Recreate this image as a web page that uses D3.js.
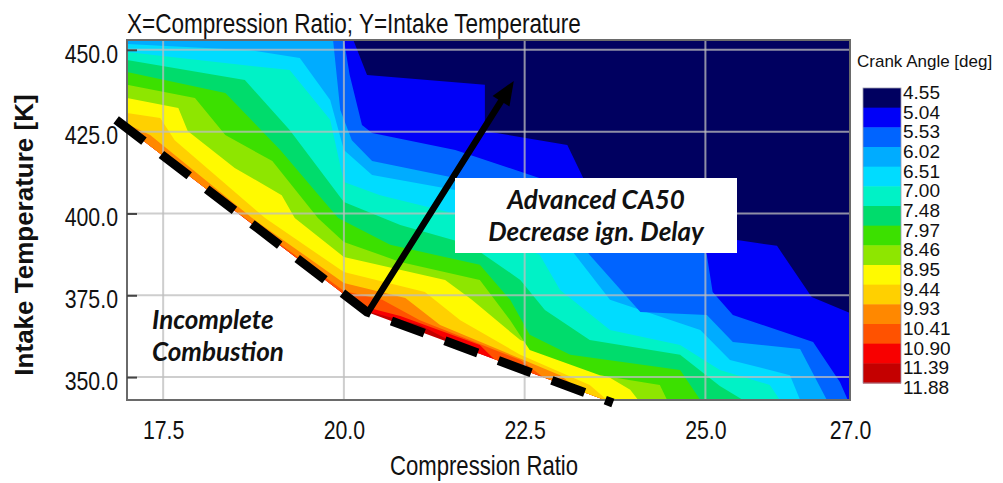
<!DOCTYPE html>
<html>
<head>
<meta charset="utf-8">
<script src="https://cdn.jsdelivr.net/npm/d3@7"></script>
<style>
  html, body { margin: 0; padding: 0; background: #fff; }
  svg { display: block; }
</style>
</head>
<body>
<svg id="chart" width="1003" height="483"></svg>
<script>
// CA50 crank-angle contour levels (deg) and the colour of each band between them
const levels = [4.55, 5.04, 5.53, 6.02, 6.51, 7.00, 7.48, 7.97, 8.46, 8.95, 9.44, 9.93, 10.41, 10.90, 11.39, 11.88];
const bandColors = ["#000060", "#0000f8", "#0064ff", "#00acff", "#00dcff", "#00f2c6", "#00dc6c",
                    "#3ce000", "#8ee600", "#fffa00", "#ffd000", "#ff8800", "#ff5200", "#f80000", "#c40000"];

const xTicks = [17.5, 20.0, 22.5, 25.0, 27.0];
const yTicks = [350, 375, 400, 425, 450];

// Isolines, [compression ratio, intake temperature K]; lower CA50 lies above/right of each line
const iso504 = [[20.10,456.1],[20.13,453.0],[20.32,442.3],[21.95,439.3],[21.95,425.2],[23.09,420.9],[23.31,410.8],[24.10,402.0],[25.44,391.9],[25.99,390.1],[26.47,374.5],[27.0,369.6],[27.3,367.0]];
const iso553 = [[19.96,456.0],[20.0,453.0],[20.08,442.3],[20.25,427.0],[20.39,424.6],[21.54,419.4],[22.99,408.7],[24.79,396.5],[25.02,387.3],[25.10,376.0],[25.38,369.0],[26.49,360.7],[26.86,348.5],[26.97,343.0],[27.03,337.0]];
const iso602 = [[19.74,456.0],[19.85,453.0],[19.95,431.6],[20.11,422.4],[20.39,416.0],[21.54,410.8],[22.99,399.5],[23.40,387.3],[24.10,369.9],[25.02,369.0],[25.38,360.7],[26.31,358.6],[26.68,343.0],[26.79,337.0]];
const iso651 = [[16.86,451.8],[17.0,451.8],[18.70,449.9],[19.39,447.5],[19.81,434.7],[20.0,419.4],[20.39,411.75],[21.54,407.2],[22.99,393.4],[23.20,387.3],[23.68,373.6],[24.93,364.4],[25.34,355.2],[26.17,350.6],[26.31,343.0],[26.38,337.0]];
const iso700 = [[16.86,449.3],[17.0,449.3],[19.25,443.8],[19.81,428.6],[20.0,409.6],[20.50,405.6],[21.61,399.5],[22.71,387.3],[22.99,376.6],[23.68,364.4],[24.65,359.8],[25.20,352.2],[25.89,347.6],[26.03,343.0],[26.10,337.0]];
const iso748 = [[16.86,446.9],[17.0,446.9],[18.63,440.8],[19.25,425.5],[20.0,403.5],[20.78,396.5],[21.74,390.4],[22.44,379.7],[22.78,370.5],[23.40,361.3],[24.65,356.8],[25.20,347.3],[25.52,343.0],[25.59,337.0]];
const iso797 = [[16.86,443.2],[17.0,443.2],[18.36,436.8],[19.12,419.4],[19.92,398.6],[20.64,390.4],[21.88,384.3],[22.30,373.6],[22.57,362.9],[23.13,356.8],[24.65,352.2],[24.93,343.0],[24.99,337.0]];
const iso846 = [[16.86,439.3],[17.0,439.3],[17.94,435.3],[18.36,424.0],[19.01,416.0],[19.64,398.6],[20.0,391.3],[20.78,385.2],[21.88,379.7],[22.30,367.4],[22.57,358.3],[23.54,350.6],[24.37,347.6],[24.47,343.0],[24.51,337.0]];
const iso895 = [[16.86,435.6],[17.0,435.3],[17.71,432.2],[17.84,425.2],[18.49,413.9],[19.14,405.6],[19.32,398.6],[20.0,386.7],[21.40,379.7],[21.77,373.6],[22.44,361.3],[23.54,351.6],[23.96,346.1],[24.07,343.0],[24.10,337.0]];
const iso944 = [[16.86,431.0],[17.0,430.7],[17.46,429.2],[17.66,422.4],[18.91,398.6],[20.0,382.1],[21.12,376.0],[21.61,367.4],[22.44,356.8],[23.40,347.6],[23.64,343.0],[23.68,337.0]];
const iso993 = [[16.86,427.6],[17.0,427.3],[17.32,424.0],[18.73,398.6],[20.0,378.75],[20.85,374.2],[21.33,365.9],[22.99,350.6],[23.45,343.0],[23.49,337.0]];
const iso1041 = [[16.86,426.1],[17.0,425.5],[18.63,398.6],[20.0,376.3],[20.53,373.6],[21.05,367.4],[22.44,355.2],[22.99,346.1],[23.13,337.0]];
const iso1090 = [[16.76,424.0],[18.42,399.5],[20.0,373.9],[20.19,372.0],[20.78,368.7],[21.88,359.8],[22.16,353.7],[22.30,337.0]];
const iso1139 = [[16.76,419.4],[18.42,397.4],[19.39,384.3],[20.0,372.0],[20.36,369.9],[21.05,365.9],[21.61,359.5],[21.74,337.0]];
const isolines = [iso504, iso553, iso602, iso651, iso700, iso748, iso797, iso846, iso895, iso944, iso993, iso1041, iso1090, iso1139];

// Incomplete-combustion boundary and the trend arrow
const misfireLine = [[16.85, 428.6], [20.32, 369.9], [23.72, 342.1]];
const arrowFrom = [20.33, 369.7];
const arrowTo = [22.35, 440.5];

const svg = d3.select("#chart");
const plot = { left: 127, right: 850, top: 40, bottom: 400 };
const x = d3.scaleLinear().domain([17, 27]).range([plot.left, plot.right]);
const y = d3.scaleLinear().domain([343, 453]).range([plot.bottom, plot.top]);
const NARROW = 0.82;           // Arial-Narrow-like horizontal squeeze
const sansFont = "'Liberation Sans', Arial, Helvetica, sans-serif";
const line = d3.line();

const defs = svg.append("defs");
defs.append("clipPath").attr("id", "plotClip").append("rect")
  .attr("x", plot.left).attr("y", plot.top)
  .attr("width", plot.right - plot.left).attr("height", plot.bottom - plot.top);

// valid region: everything above the misfire boundary
const far = 60;
const validPts = misfireLine.map(d => [x(d[0]), y(d[1])]);
const firstPt = validPts[0], lastPt = validPts[validPts.length - 1];
validPts.push([plot.right + far, lastPt[1] + far], [plot.right + far, plot.top - far],
              [plot.left - far, plot.top - far], [plot.left - far, firstPt[1]]);
defs.append("clipPath").attr("id", "validClip").append("path").attr("d", line(validPts) + "Z");

// filled contour bands, painted from the highest level down
const fillG = svg.append("g").attr("clip-path", "url(#plotClip)")
  .append("g").attr("clip-path", "url(#validClip)");
fillG.append("rect")
  .attr("x", plot.left).attr("y", plot.top)
  .attr("width", plot.right - plot.left).attr("height", plot.bottom - plot.top)
  .attr("fill", bandColors[bandColors.length - 1]);
const outer = [[plot.right + far, plot.bottom + far], [plot.right + far, plot.top - far], [plot.left - far, plot.top - far]];
for (let k = isolines.length - 1; k >= 0; k--) {
  const pts = isolines[k].map(d => [x(d[0]), y(d[1])]).concat(outer);
  fillG.append("path").attr("d", line(pts) + "Z").attr("fill", bandColors[k]);
}

// grid
const gridG = svg.append("g").attr("stroke", "#bdbdbd").attr("stroke-opacity", 0.75).attr("stroke-width", 2);
gridG.selectAll("line.gx").data(xTicks.filter(v => x(v) < plot.right - 2)).join("line")
  .attr("x1", d => x(d)).attr("x2", d => x(d)).attr("y1", plot.top).attr("y2", plot.bottom);
gridG.selectAll("line.gy").data(yTicks).join("line")
  .attr("x1", plot.left).attr("x2", plot.right).attr("y1", d => y(d)).attr("y2", d => y(d));

// frame
svg.append("rect").attr("x", plot.left).attr("y", plot.top)
  .attr("width", plot.right - plot.left).attr("height", plot.bottom - plot.top)
  .attr("fill", "none").attr("stroke", "#6a6a6a").attr("stroke-width", 2);

// axes
const yAxis = d3.axisLeft(y).tickValues(yTicks).tickFormat(d3.format(".1f"))
  .tickSizeInner(-10).tickSizeOuter(0).tickPadding(11);
const yG = svg.append("g").attr("transform", `translate(${plot.left},0)`).call(yAxis);
yG.select(".domain").remove();
yG.selectAll(".tick line").attr("stroke", "#444").attr("stroke-width", 2);
yG.selectAll(".tick text").attr("transform", `scale(${NARROW},1)`).attr("dy", "0.47em")
  .style("font-family", sansFont).style("font-size", "26px").attr("fill", "#111");

const xAxis = d3.axisBottom(x).tickValues(xTicks).tickFormat(d3.format(".1f"))
  .tickSizeInner(0).tickSizeOuter(0).tickPadding(21);
const xG = svg.append("g").attr("transform", `translate(0,${plot.bottom})`).call(xAxis);
xG.select(".domain").remove();
xG.selectAll(".tick text").attr("transform", `scale(${NARROW},1)`)
  .style("font-family", sansFont).style("font-size", "26px").attr("fill", "#111");

function narrowText(tx, ty, txt, size, anchor) {
  return svg.append("text")
    .attr("transform", `translate(${tx},${ty}) scale(${NARROW},1)`)
    .attr("text-anchor", anchor)
    .style("font-family", sansFont).style("font-size", size + "px")
    .attr("fill", "#111").text(txt);
}
function plainText(tx, ty, txt, size, anchor) {
  return svg.append("text").attr("x", tx).attr("y", ty)
    .attr("text-anchor", anchor)
    .style("font-family", sansFont).style("font-size", size + "px")
    .attr("fill", "#111").text(txt);
}

narrowText(plot.left, 33, "X=Compression Ratio; Y=Intake Temperature", 27.5, "start");
narrowText(484, 475, "Compression Ratio", 27, "middle");
svg.append("text")
  .attr("transform", `translate(33,235) rotate(-90)`)
  .attr("text-anchor", "middle")
  .style("font-family", sansFont).style("font-size", "26px").style("font-weight", "bold")
  .attr("fill", "#111").text("Intake Temperature [K]");

// colour legend
plainText(857, 67, "Crank Angle [deg]", 17, "start");
const legY = d3.scaleLinear().domain([0, bandColors.length]).range([88, 383]);
svg.append("g").selectAll("rect").data(bandColors).join("rect")
  .attr("x", 863).attr("width", 38)
  .attr("y", (d, i) => legY(i)).attr("height", (d, i) => legY(i + 1) - legY(i) + 0.5)
  .attr("fill", d => d);
svg.append("rect").attr("x", 863).attr("y", legY(0)).attr("width", 38)
  .attr("height", legY(bandColors.length) - legY(0))
  .attr("fill", "none").attr("stroke", "#9a9ab0").attr("stroke-width", 0.8);
levels.forEach((v, i) => plainText(903, legY(i) + 11, v.toFixed(2), 19, "start"));

// misfire boundary (dashed)
svg.append("path")
  .attr("d", line(misfireLine.map(d => [x(d[0]), y(d[1])])))
  .attr("fill", "none").attr("stroke", "#000").attr("stroke-width", 9)
  .attr("stroke-dasharray", "35 22");

// arrow
const a0 = [x(arrowFrom[0]), y(arrowFrom[1])], a1 = [x(arrowTo[0]), y(arrowTo[1])];
const ang = Math.atan2(a1[1] - a0[1], a1[0] - a0[0]);
const headLen = 24, headHalf = 10;
const base = [a1[0] - headLen * Math.cos(ang), a1[1] - headLen * Math.sin(ang)];
svg.append("line").attr("x1", a0[0]).attr("y1", a0[1]).attr("x2", base[0]).attr("y2", base[1])
  .attr("stroke", "#000").attr("stroke-width", 6.5).attr("stroke-linecap", "round");
svg.append("path").attr("d", line([
    a1,
    [base[0] + headHalf * Math.sin(ang), base[1] - headHalf * Math.cos(ang)],
    [base[0] - headHalf * Math.sin(ang), base[1] + headHalf * Math.cos(ang)]
  ]) + "Z").attr("fill", "#000");

// annotation box
svg.append("rect").attr("x", 455).attr("y", 178).attr("width", 282).attr("height", 75).attr("fill", "#fff");
const annoFont = "Lato, 'Open Sans', 'Noto Sans', sans-serif";
function annoText(tx, ty, txt, size, anchor) {
  return svg.append("text").attr("x", tx).attr("y", ty).attr("text-anchor", anchor)
    .style("font-family", annoFont).style("font-size", size + "px")
    .style("font-weight", "bold").style("font-style", "italic")
    .attr("fill", "#111").text(txt);
}
annoText(596, 209, "Advanced CA50", 26, "middle");
annoText(596, 241, "Decrease ign. Delay", 26, "middle");
annoText(152, 329, "Incomplete", 26, "start");
annoText(152, 361, "Combustion", 26, "start");
</script>
</body>
</html>
